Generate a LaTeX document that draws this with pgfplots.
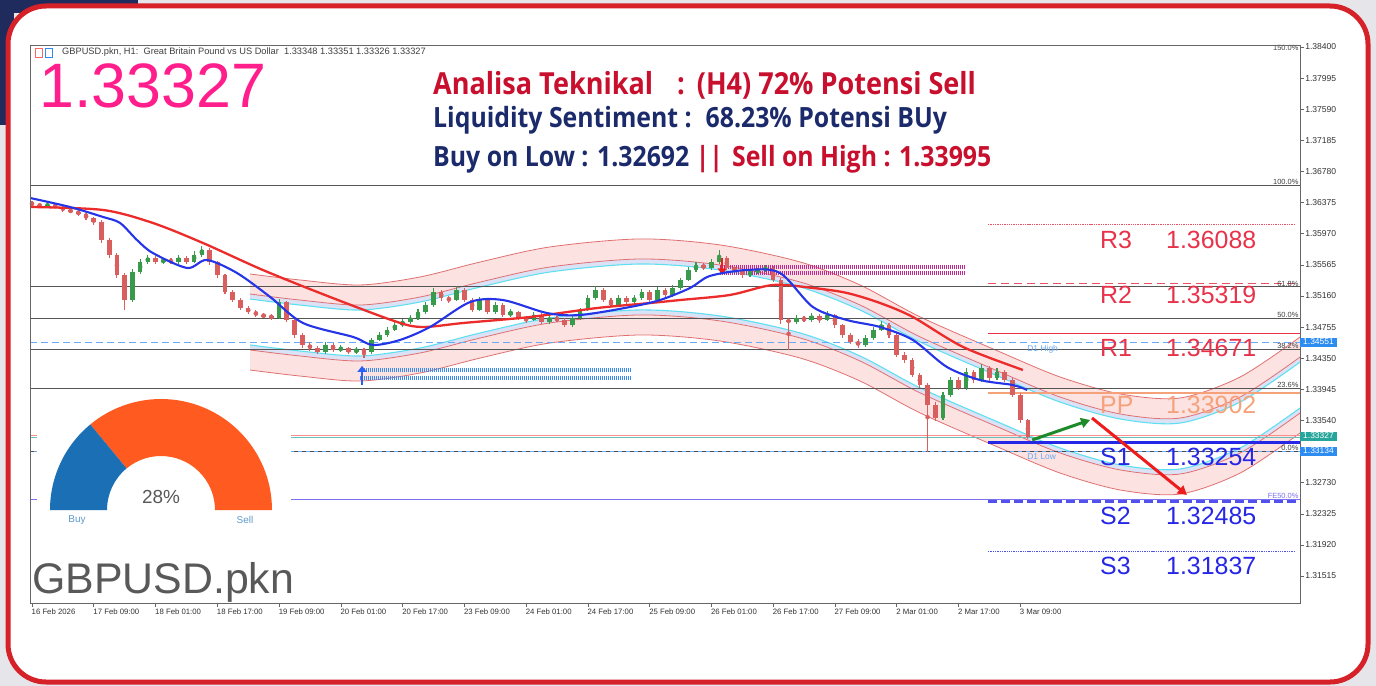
\documentclass[border=0pt]{standalone}
\usepackage{fontspec}
\setmainfont{Liberation Sans}
\newfontfamily\osans{Open Sans}[FakeStretch=0.89]
\usepackage{pgfplots}
\usepackage{pgfplotstable}
\pgfplotsset{compat=1.18}
\usetikzlibrary{arrows.meta}

\definecolor{bggray}{HTML}{E6E6EA}
\definecolor{navy}{HTML}{1E2B5C}
\definecolor{framered}{HTML}{D62129}
\definecolor{upg}{HTML}{3A9A4C}
\definecolor{dnr}{HTML}{D95F5F}
\definecolor{mablue}{HTML}{2434E6}
\definecolor{mared}{HTML}{EC2B2B}
\definecolor{chline}{HTML}{E07070}
\definecolor{chpink}{HTML}{FDE2E2}
\definecolor{chlav}{HTML}{DCE2F6}
\definecolor{chcyan}{HTML}{5FE0F0}
\definecolor{fibc}{HTML}{555555}
\definecolor{d1blue}{HTML}{6AAAF5}
\definecolor{rcol}{HTML}{E8324A}
\definecolor{ppcol}{HTML}{F5A27A}
\definecolor{scol}{HTML}{2626E6}
\definecolor{fecol}{HTML}{7A70F0}
\definecolor{zblue}{HTML}{3A8AF0}
\definecolor{zmag}{HTML}{C02A90}
\definecolor{bigpink}{HTML}{FF1E8C}
\definecolor{anred}{HTML}{C8102E}
\definecolor{annavy}{HTML}{1B2A6B}
\definecolor{gblue}{HTML}{1A6FB5}
\definecolor{gorange}{HTML}{FF5A1F}
\definecolor{boxblue}{HTML}{2D8CF0}
\definecolor{boxteal}{HTML}{26A69A}
\definecolor{arrgreen}{HTML}{1F8A2A}
\definecolor{arrred}{HTML}{EE1C1C}

% candles: h open close high low  (2-hour steps, h = hours since 16 Feb 00:00)
\pgfplotstableread{
h o c hi lo
4 1.36331 1.36344 1.36365 1.36315
26 1.35107 1.35472 1.35510 1.35080
28 1.35472 1.35602 1.35640 1.35450
30 1.35602 1.35654 1.35690 1.35580
34 1.35602 1.35628 1.35660 1.35580
38 1.35602 1.35654 1.35690 1.35580
42 1.35602 1.35693 1.35740 1.35590
44 1.35693 1.35758 1.35810 1.35670
64 1.34873 1.35081 1.35120 1.34860
76 1.34431 1.34522 1.34560 1.34410
80 1.34457 1.34483 1.34520 1.34430
84 1.34431 1.34457 1.34490 1.34410
88 1.34431 1.34587 1.34620 1.34410
90 1.34587 1.34652 1.34690 1.34570
92 1.34652 1.34717 1.34750 1.34630
94 1.34717 1.34782 1.34820 1.34700
96 1.34782 1.34821 1.34860 1.34760
98 1.34821 1.34873 1.34910 1.34800
100 1.34873 1.34951 1.34990 1.34850
102 1.34951 1.35042 1.35080 1.34930
104 1.35042 1.35212 1.35260 1.35020
110 1.35107 1.35238 1.35290 1.35090
116 1.34977 1.35107 1.35150 1.34960
120 1.34951 1.35042 1.35080 1.34930
124 1.34912 1.34951 1.34990 1.34890
130 1.34847 1.34912 1.34950 1.34830
134 1.34821 1.34873 1.34910 1.34800
140 1.34782 1.34873 1.34910 1.34760
142 1.34873 1.34977 1.35010 1.34850
144 1.34977 1.35133 1.35170 1.34960
146 1.35133 1.35238 1.35290 1.35110
152 1.35042 1.35133 1.35170 1.35020
156 1.35081 1.35133 1.35170 1.35060
158 1.35133 1.35212 1.35250 1.35110
162 1.35107 1.35238 1.35280 1.35090
166 1.35173 1.35264 1.35300 1.35150
168 1.35264 1.35368 1.35400 1.35240
170 1.35368 1.35498 1.35540 1.35350
172 1.35498 1.35563 1.35600 1.35470
176 1.35524 1.35602 1.35640 1.35500
178 1.35602 1.35654 1.35758 1.35580
186 1.35433 1.35472 1.35510 1.35410
188 1.35472 1.35498 1.35530 1.35450
190 1.35498 1.35524 1.35560 1.35470
198 1.34821 1.34873 1.34910 1.34790
202 1.34847 1.34899 1.34940 1.34820
206 1.34847 1.34912 1.34960 1.34830
216 1.34522 1.34613 1.34650 1.34500
218 1.34613 1.34717 1.34760 1.34590
220 1.34717 1.34782 1.34830 1.34700
236 1.33572 1.33871 1.33910 1.33550
238 1.33871 1.34066 1.34110 1.33850
242 1.33962 1.34171 1.34220 1.33940
246 1.34066 1.34223 1.34270 1.34040
250 1.34092 1.34171 1.34220 1.34070
}\upc

\pgfplotstableread{
h o c hi lo
0 1.36380 1.36344 1.36400 1.36320
2 1.36344 1.36331 1.36370 1.36310
6 1.36344 1.36318 1.36360 1.36300
8 1.36318 1.36279 1.36335 1.36255
10 1.36279 1.36253 1.36300 1.36235
12 1.36253 1.36227 1.36290 1.36200
14 1.36227 1.36175 1.36240 1.36150
16 1.36175 1.36123 1.36190 1.36090
18 1.36123 1.35888 1.36150 1.35850
20 1.35888 1.35693 1.35920 1.35650
22 1.35693 1.35433 1.35720 1.35390
24 1.35433 1.35107 1.35460 1.34977
32 1.35654 1.35602 1.35680 1.35580
36 1.35628 1.35602 1.35650 1.35570
40 1.35654 1.35602 1.35680 1.35570
46 1.35758 1.35602 1.35780 1.35570
48 1.35602 1.35433 1.35620 1.35400
50 1.35433 1.35212 1.35450 1.35180
52 1.35212 1.35107 1.35240 1.35080
54 1.35107 1.35003 1.35130 1.34980
56 1.35003 1.34951 1.35030 1.34920
58 1.34951 1.34912 1.34980 1.34890
60 1.34912 1.34899 1.34940 1.34870
62 1.34899 1.34873 1.34930 1.34850
66 1.35081 1.34847 1.35100 1.34820
68 1.34847 1.34652 1.34870 1.34620
70 1.34652 1.34522 1.34680 1.34490
72 1.34522 1.34483 1.34560 1.34440
74 1.34483 1.34431 1.34510 1.34400
78 1.34522 1.34457 1.34550 1.34430
82 1.34483 1.34431 1.34500 1.34400
86 1.34457 1.34431 1.34480 1.34353
106 1.35212 1.35133 1.35240 1.35100
108 1.35133 1.35107 1.35160 1.35070
112 1.35238 1.35107 1.35260 1.35080
114 1.35107 1.34977 1.35130 1.34950
118 1.35107 1.34951 1.35130 1.34920
122 1.35042 1.34912 1.35070 1.34890
126 1.34951 1.34873 1.34970 1.34850
128 1.34873 1.34847 1.34900 1.34810
132 1.34912 1.34821 1.34940 1.34790
136 1.34873 1.34847 1.34900 1.34820
138 1.34847 1.34782 1.34870 1.34750
148 1.35238 1.35107 1.35260 1.35080
150 1.35107 1.35042 1.35130 1.35010
154 1.35133 1.35081 1.35160 1.35060
160 1.35212 1.35107 1.35240 1.35080
164 1.35238 1.35173 1.35260 1.35150
174 1.35563 1.35524 1.35590 1.35500
180 1.35654 1.35524 1.35680 1.35500
182 1.35524 1.35498 1.35550 1.35470
184 1.35498 1.35433 1.35520 1.35400
192 1.35524 1.35368 1.35550 1.35340
194 1.35368 1.34847 1.35390 1.34800
196 1.34847 1.34821 1.34880 1.34457
200 1.34873 1.34847 1.34900 1.34820
204 1.34899 1.34847 1.34920 1.34810
208 1.34912 1.34782 1.34930 1.34750
210 1.34782 1.34652 1.34800 1.34620
212 1.34652 1.34561 1.34680 1.34530
214 1.34561 1.34522 1.34600 1.34490
222 1.34782 1.34652 1.34810 1.34620
224 1.34652 1.34392 1.34680 1.34360
226 1.34392 1.34327 1.34430 1.34290
228 1.34327 1.34131 1.34350 1.34100
230 1.34131 1.34001 1.34160 1.33960
232 1.34001 1.33741 1.34030 1.33134
234 1.33741 1.33572 1.33780 1.33530
240 1.34066 1.33962 1.34100 1.33930
244 1.34171 1.34066 1.34200 1.34030
248 1.34223 1.34092 1.34250 1.34060
252 1.34171 1.34066 1.34200 1.34040
254 1.34066 1.33871 1.34090 1.33840
256 1.33871 1.33546 1.33900 1.33510
258 1.33546 1.33327 1.33560 1.33300
}\dnc

% regression channel
\pgfplotstableread{
h u2 u1 u0 l0 l1 l2
56.5 1.35446 1.35185 1.35120 1.34522 1.34457 1.34196
69.4 1.35368 1.35107 1.35042 1.34444 1.34379 1.34118
85.0 1.35303 1.35042 1.34977 1.34379 1.34314 1.34053
100.5 1.35407 1.35146 1.35081 1.34483 1.34418 1.34157
116.1 1.35602 1.35341 1.35276 1.34678 1.34613 1.34352
134.2 1.35798 1.35537 1.35472 1.34874 1.34809 1.34548
157.5 1.35902 1.35641 1.35576 1.34978 1.34913 1.34652
178.2 1.35824 1.35563 1.35498 1.34900 1.34835 1.34574
199.0 1.35602 1.35341 1.35276 1.34678 1.34613 1.34352
214.5 1.35303 1.35042 1.34977 1.34379 1.34314 1.34053
230.1 1.34887 1.34626 1.34561 1.33963 1.33898 1.33637
250.8 1.34431 1.34170 1.34105 1.33507 1.33442 1.33181
266.3 1.34106 1.33845 1.33780 1.33182 1.33117 1.32856
281.9 1.33885 1.33624 1.33559 1.32961 1.32896 1.32635
297.4 1.33832 1.33571 1.33506 1.32908 1.32843 1.32582
313.0 1.34106 1.33845 1.33780 1.33182 1.33117 1.32856
328.5 1.34626 1.34365 1.34300 1.33702 1.33637 1.33376
}\chan

\tikzset{
 fiblab/.style={anchor=south east, font=\fontsize{7.5}{8}\selectfont, text=black!75, inner sep=0.6bp},
 pivfont/.style={font=\fontsize{25}{26}\selectfont, anchor=west, inner sep=0pt},
 pbox/.style={text=white, font=\fontsize{8.5}{9}\selectfont, inner xsep=3bp, inner ysep=1.5bp, anchor=west},
}

\begin{document}
\begin{tikzpicture}
\begin{scope}[x=1bp,y=-1bp]
\fill[bggray] (0,0) rectangle (1376,686);
\fill[navy] (0,0) rectangle (138,13);
\fill[navy] (0,0) rectangle (14,125);
\filldraw[fill=white, draw=framered, line width=5bp, rounded corners=38bp] (8,6) rectangle (1368,682);
\end{scope}

\begin{axis}[
  at={(30bp,-603bp)}, anchor=south west,
  scale only axis, width=1270bp, height=558bp,
  xmin=-0.52, xmax=328.5, ymin=1.31164, ymax=1.38426,
  clip mode=individual, axis on top,
  axis line style={draw=black!60, line width=0.9bp},
  tick style={draw=black!60, line width=0.6bp},
  major tick length=4bp, tick align=outside,
  xtick pos=bottom, ytick pos=right, yticklabel pos=right,
  xtick={0,16,32,48,64,80,96,112,128,144,160,176,192,208,224,240,256},
  xticklabels={16 Feb 2026,17 Feb 09:00,18 Feb 01:00,18 Feb 17:00,19 Feb 09:00,20 Feb 01:00,20 Feb 17:00,23 Feb 09:00,24 Feb 01:00,24 Feb 17:00,25 Feb 09:00,26 Feb 01:00,26 Feb 17:00,27 Feb 09:00,2 Mar 01:00,2 Mar 17:00,3 Mar 09:00},
  xticklabel style={font=\fontsize{7.8}{8}\selectfont, text=black!80, anchor=north west, xshift=-1.5bp, yshift=-1bp, inner sep=1bp},
  ytick={1.31515,1.31920,1.32325,1.32730,1.33135,1.33540,1.33945,1.34350,1.34755,1.35160,1.35565,1.35970,1.36375,1.36780,1.37185,1.37590,1.37995,1.38400},
  yticklabels={1.31515,1.31920,1.32325,1.32730,1.33135,1.33540,1.33945,1.34350,1.34755,1.35160,1.35565,1.35970,1.36375,1.36780,1.37185,1.37590,1.37995,1.38400},
  yticklabel style={font=\fontsize{8.6}{9}\selectfont, text=black!80, anchor=west, inner sep=1bp},
  scaled y ticks=false,
]
% channel fills (stacked from top band down)
\addplot[fill=chpink, draw=none, smooth] table[x=h,y=u2]{\chan} \closedcycle;
\addplot[fill=chlav, draw=none, smooth] table[x=h,y=u1]{\chan} \closedcycle;
\addplot[fill=white, draw=none, smooth] table[x=h,y=u0]{\chan} \closedcycle;
\addplot[fill=chlav, draw=none, smooth] table[x=h,y=l0]{\chan} \closedcycle;
\addplot[fill=chpink, draw=none, smooth] table[x=h,y=l1]{\chan} \closedcycle;
\addplot[fill=white, draw=none, smooth] table[x=h,y=l2]{\chan} \closedcycle;
% channel lines
\addplot[chline, line width=0.8bp, smooth] table[x=h,y=u2]{\chan};
\addplot[chline, line width=0.8bp, smooth] table[x=h,y=u1]{\chan};
\addplot[chcyan, line width=1.1bp, smooth] table[x=h,y=u0]{\chan};
\addplot[chcyan, line width=1.1bp, smooth] table[x=h,y=l0]{\chan};
\addplot[chline, line width=0.8bp, smooth] table[x=h,y=l1]{\chan};
\addplot[chline, line width=0.8bp, smooth] table[x=h,y=l2]{\chan};

% fibonacci levels
\addplot[fibc, line width=0.9bp] coordinates {(-0.52,1.36604) (328.5,1.36604)};
\addplot[fibc, line width=0.9bp] coordinates {(-0.52,1.35278) (328.5,1.35278)};
\addplot[fibc, line width=0.9bp] coordinates {(-0.52,1.34869) (328.5,1.34869)};
\addplot[fibc, line width=0.9bp] coordinates {(-0.52,1.34460) (328.5,1.34460)};
\addplot[fibc, line width=0.9bp] coordinates {(-0.52,1.33953) (328.5,1.33953)};
\addplot[d1blue, line width=0.9bp] coordinates {(-0.52,1.33134) (328.5,1.33134)};
\addplot[black!70, line width=0.8bp, dash pattern=on 4bp off 4bp] coordinates {(-0.52,1.33134) (328.5,1.33134)};
\addplot[d1blue, line width=1.2bp, dash pattern=on 7bp off 4bp] coordinates {(-0.52,1.34551) (328.5,1.34551)};
\addplot[fecol, line width=1bp] coordinates {(-0.52,1.32515) (328.5,1.32515)};
\addplot[red!45, line width=1bp] coordinates {(-0.52,1.33345) (328.5,1.33345)};
\addplot[boxteal!70, line width=1bp] coordinates {(-0.52,1.33322) (328.5,1.33322)};

% pivot levels
\addplot[rcol!85, line width=1.3bp, densely dotted] coordinates {(247.7,1.36088) (327.2,1.36088)};
\addplot[rcol!85, line width=1.4bp, dash pattern=on 8bp off 5bp] coordinates {(247.7,1.35319) (327.2,1.35319)};
\addplot[rcol, line width=1.6bp] coordinates {(247.7,1.34671) (328.5,1.34671)};
\addplot[ppcol, line width=2bp] coordinates {(247.7,1.33902) (328.5,1.33902)};
\addplot[scol, line width=2.6bp] coordinates {(247.7,1.33254) (328.5,1.33254)};
\addplot[scol!80, line width=2.2bp, dash pattern=on 9bp off 4bp] coordinates {(247.7,1.32485) (328.5,1.32485)};
\addplot[scol!80, line width=1.3bp, densely dotted] coordinates {(247.7,1.31837) (327.2,1.31837)};

% zones
\addplot[zblue, line width=3.5bp, dash pattern=on 1.2bp off 0.8bp] coordinates {(85,1.34197) (155.4,1.34197)};
\addplot[zblue, line width=3.5bp, dash pattern=on 1.2bp off 0.8bp] coordinates {(85,1.34092) (155.4,1.34092)};
\addplot[zmag, line width=3.5bp, dash pattern=on 1.2bp off 0.8bp] coordinates {(178.2,1.35537) (241.7,1.35537)};
\addplot[zmag, line width=3.5bp, dash pattern=on 1.2bp off 0.8bp] coordinates {(178.2,1.35459) (241.7,1.35459)};
\addplot[zblue!70!blue, line width=2.2bp, -{Triangle[width=9bp,length=6bp]}] coordinates {(85.5,1.34001) (85.5,1.34250)};
\addplot[arrred, line width=2.2bp, -{Triangle[width=9bp,length=6bp]}] coordinates {(178.8,1.35660) (178.8,1.35440)};

% candles
\addplot[upg, only marks, mark=none, error bars/.cd, y dir=both, y explicit, error mark=none, error bar style={line width=1.1bp, upg}]
  table[x=h, y expr={(\thisrow{hi}+\thisrow{lo})/2}, y error expr={(\thisrow{hi}-\thisrow{lo})/2}]{\upc};
\addplot[upg, only marks, mark=none, error bars/.cd, y dir=both, y explicit, error mark=none, error bar style={line width=4.6bp, upg}]
  table[x=h, y expr={(\thisrow{o}+\thisrow{c})/2}, y error expr={(\thisrow{c}-\thisrow{o})/2+0.00003}]{\upc};
\addplot[dnr, only marks, mark=none, error bars/.cd, y dir=both, y explicit, error mark=none, error bar style={line width=1.1bp, dnr}]
  table[x=h, y expr={(\thisrow{hi}+\thisrow{lo})/2}, y error expr={(\thisrow{hi}-\thisrow{lo})/2}]{\dnc};
\addplot[dnr, only marks, mark=none, error bars/.cd, y dir=both, y explicit, error mark=none, error bar style={line width=4.6bp, dnr}]
  table[x=h, y expr={(\thisrow{o}+\thisrow{c})/2}, y error expr={(\thisrow{o}-\thisrow{c})/2+0.00003}]{\dnc};

% moving averages
\addplot[mared, line width=2.3bp, smooth] coordinates {(-0.5,1.36318) (18.4,1.36279) (31.3,1.36110) (44.3,1.35849) (59.8,1.35498) (77.2,1.35147) (94.6,1.34821) (101.3,1.34756) (111.7,1.34808) (129.0,1.34886) (146.4,1.35003) (160.1,1.35068) (167.9,1.35107) (180.8,1.35173) (192.0,1.35303) (202.3,1.35264) (211.1,1.35199) (219.7,1.35068) (228.2,1.34886) (241.2,1.34496) (256.7,1.34197)};
\addplot[mablue, line width=2.1bp, smooth] coordinates {(-0.5,1.36435) (9.8,1.36318) (18.4,1.36188) (22.8,1.36110) (27.2,1.35888) (31.3,1.35719) (40.2,1.35524) (45.3,1.35628) (53.1,1.35459) (61.7,1.35147) (70.2,1.34808) (83.2,1.34626) (88.3,1.34522) (95.3,1.34587) (103.1,1.34756) (113.5,1.35081) (122.0,1.35107) (133.4,1.34938) (142.0,1.34912) (154.9,1.35016) (162.7,1.35107) (170.5,1.35264) (175.6,1.35420) (185.2,1.35498) (193.8,1.35459) (202.3,1.35016) (211.1,1.34847) (219.7,1.34756) (228.2,1.34587) (237.0,1.34236) (245.6,1.34066) (254.1,1.34001) (257.8,1.33936)};

% projection arrows
\addplot[arrgreen, line width=3bp, -{Triangle[width=10bp,length=9bp]}] coordinates {(259.1,1.33286) (274.1,1.33546)};
\addplot[arrred, line width=3bp, -{Triangle[width=10bp,length=9bp]}] coordinates {(274.6,1.33572) (299.2,1.32570)};

% fib labels
\node[fiblab] at (axis cs:328.3,1.38339) {150.0\%};
\node[fiblab] at (axis cs:328.3,1.36604) {100.0\%};
\node[fiblab] at (axis cs:328.3,1.35278) {61.8\%};
\node[fiblab] at (axis cs:328.3,1.34869) {50.0\%};
\node[fiblab] at (axis cs:328.3,1.34460) {38.2\%};
\node[fiblab] at (axis cs:328.3,1.33953) {23.6\%};
\node[fiblab] at (axis cs:328.3,1.33134) {0.0\%};
\node[fiblab, text=fecol] at (axis cs:328.3,1.32515) {FE50.0\%};
\node[anchor=west, font=\fontsize{8.5}{9}\selectfont, text=d1blue, inner sep=0bp] at (axis cs:257.8,1.34470) {D1 High};
\node[anchor=west, font=\fontsize{8.5}{9}\selectfont, text=d1blue, inner sep=0bp] at (axis cs:257.8,1.33064) {D1 Low};
\end{axis}

\begin{scope}[x=1bp,y=-1bp]
% price boxes on right scale
\node[pbox, fill=boxblue] at (1300,342) {1.34551};
\node[pbox, fill=boxteal] at (1300,436) {1.33327};
\node[pbox, fill=boxblue] at (1300,451) {1.33134};

% header
\draw[red!60, line width=0.8bp] (35,48) rectangle (42,57);
\draw[boxblue, line width=0.8bp] (45,48) rectangle (52,57);
\node[anchor=west, font=\fontsize{9.3}{10}\selectfont, text=black!75, inner sep=0pt] at (62,52) {GBPUSD.pkn, H1:\ \ Great Britain Pound vs US Dollar\ \ 1.33348 1.33351 1.33326 1.33327};
\node[anchor=base west, font=\fontsize{63}{65}\selectfont, text=bigpink, inner sep=0pt] at (39,108) {1.33327};

% analysis text
\node[anchor=base west, inner sep=0pt, font=\osans\bfseries\fontsize{30.5}{32}\selectfont, text=anred] at (433,95) {Analisa Teknikal\hspace{24bp}:\hspace{12bp}(H4) 72\% Potensi Sell};
\node[anchor=base west, inner sep=0pt, font=\osans\bfseries\fontsize{28}{30}\selectfont, text=annavy] at (433,128) {Liquidity Sentiment :\hspace{14bp}68.23\% Potensi BUy};
\node[anchor=base west, inner sep=0pt, font=\osans\bfseries\fontsize{28}{30}\selectfont] at (433,166) {\textcolor{annavy}{Buy on Low : 1.32692} \textcolor{anred}{||}\hspace{9bp}\textcolor{anred}{Sell on High : 1.33995}};

% pivot labels
\node[pivfont, text=rcol] at (1100,240) {R3};
\node[pivfont, text=rcol] at (1166,240) {1.36088};
\node[pivfont, text=rcol] at (1100,295) {R2};
\node[pivfont, text=rcol] at (1166,295) {1.35319};
\node[pivfont, text=rcol] at (1100,348) {R1};
\node[pivfont, text=rcol] at (1166,348) {1.34671};
\node[pivfont, text=ppcol] at (1100,405) {PP};
\node[pivfont, text=ppcol] at (1166,405) {1.33902};
\node[pivfont, text=scol] at (1100,457) {S1};
\node[pivfont, text=scol] at (1166,457) {1.33254};
\node[pivfont, text=scol] at (1100,516) {S2};
\node[pivfont, text=scol] at (1166,516) {1.32485};
\node[pivfont, text=scol] at (1100,566) {S3};
\node[pivfont, text=scol] at (1166,566) {1.31837};

% gauge panel
\fill[white] (37,391) rectangle (291,601);
\end{scope}
\begin{scope}[x=1bp,y=1bp, shift={(161bp,-510bp)}]
  \fill[gorange] (0:111) arc[start angle=0, end angle=129.6, radius=111] -- (129.6:54) arc[start angle=129.6, end angle=0, radius=54] -- cycle;
  \fill[gblue] (129.6:111) arc[start angle=129.6, end angle=180, radius=111] -- (180:54) arc[start angle=180, end angle=129.6, radius=54] -- cycle;
\end{scope}
\begin{scope}[x=1bp,y=-1bp]
\node[font=\fontsize{19}{20}\selectfont, text=black!65] at (161,497) {28\%};
\node[font=\fontsize{10}{11}\selectfont, text=gblue!70] at (77,520) {Buy};
\node[font=\fontsize{10}{11}\selectfont, text=gblue!70] at (245,520) {Sell};
\node[anchor=base west, font=\fontsize{43}{45}\selectfont, text=black!65, inner sep=0pt] at (32,593) {GBPUSD.pkn};
\useasboundingbox (0,0) rectangle (1376,686);
\end{scope}
\end{tikzpicture}
\end{document}
